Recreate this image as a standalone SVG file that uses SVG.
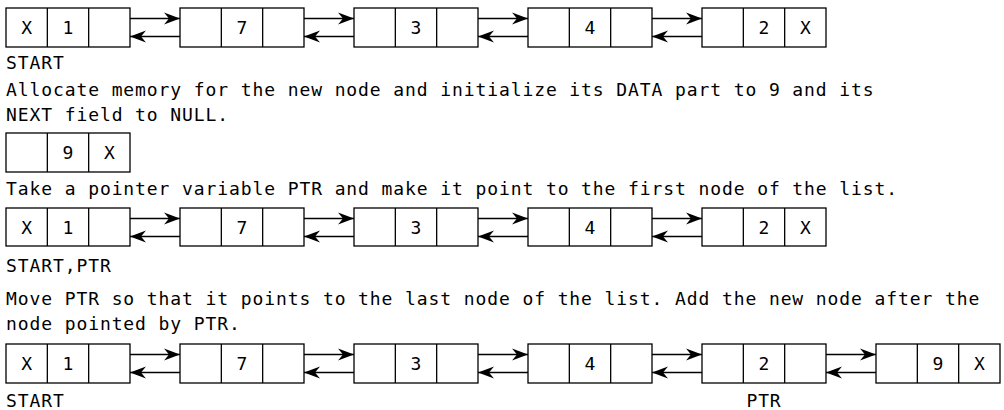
<svg xmlns="http://www.w3.org/2000/svg" width="1004" height="410" viewBox="0 0 1004 410">
<style>
.box{fill:#fff;stroke:#000;stroke-width:1.3}
.div{stroke:#000;stroke-width:1.3}
.ct{font-family:"DejaVu Sans Mono","Liberation Mono",monospace;font-size:18px;fill:#000;text-anchor:middle}
.tx{font-family:"DejaVu Sans Mono","Liberation Mono",monospace;font-size:18px;letter-spacing:0.9px;fill:#000}
.ln{stroke:#000;stroke-width:1.3;fill:none;marker-end:url(#ah)}
</style>
<defs>
<marker id="ah" markerUnits="userSpaceOnUse" markerWidth="17" markerHeight="13" refX="16" refY="6.5" orient="auto">
<path d="M0,0.5 L16,6.5 L0,12.5 L5,6.5 z" fill="#000"/>
</marker>
</defs>
<rect width="1004" height="410" fill="#fff"/>

<g id="connectors">
<line class="ln" x1="130" y1="18.5" x2="180" y2="18.5"/>
<line class="ln" x1="180" y1="36.5" x2="130" y2="36.5"/>
<line class="ln" x1="304" y1="18.5" x2="354" y2="18.5"/>
<line class="ln" x1="354" y1="36.5" x2="304" y2="36.5"/>
<line class="ln" x1="478" y1="18.5" x2="528" y2="18.5"/>
<line class="ln" x1="528" y1="36.5" x2="478" y2="36.5"/>
<line class="ln" x1="652" y1="18.5" x2="702" y2="18.5"/>
<line class="ln" x1="702" y1="36.5" x2="652" y2="36.5"/>
<line class="ln" x1="130" y1="218.5" x2="180" y2="218.5"/>
<line class="ln" x1="180" y1="236.5" x2="130" y2="236.5"/>
<line class="ln" x1="304" y1="218.5" x2="354" y2="218.5"/>
<line class="ln" x1="354" y1="236.5" x2="304" y2="236.5"/>
<line class="ln" x1="478" y1="218.5" x2="528" y2="218.5"/>
<line class="ln" x1="528" y1="236.5" x2="478" y2="236.5"/>
<line class="ln" x1="652" y1="218.5" x2="702" y2="218.5"/>
<line class="ln" x1="702" y1="236.5" x2="652" y2="236.5"/>
<line class="ln" x1="130" y1="354.5" x2="180" y2="354.5"/>
<line class="ln" x1="180" y1="372.5" x2="130" y2="372.5"/>
<line class="ln" x1="304" y1="354.5" x2="354" y2="354.5"/>
<line class="ln" x1="354" y1="372.5" x2="304" y2="372.5"/>
<line class="ln" x1="478" y1="354.5" x2="528" y2="354.5"/>
<line class="ln" x1="528" y1="372.5" x2="478" y2="372.5"/>
<line class="ln" x1="652" y1="354.5" x2="702" y2="354.5"/>
<line class="ln" x1="702" y1="372.5" x2="652" y2="372.5"/>
<line class="ln" x1="826" y1="354.5" x2="876" y2="354.5"/>
<line class="ln" x1="876" y1="372.5" x2="826" y2="372.5"/>
</g>

<g id="r1n1"><rect class="box" x="6" y="8" width="124" height="39"/><line class="div" x1="47.33" y1="8" x2="47.33" y2="47"/><line class="div" x1="88.67" y1="8" x2="88.67" y2="47"/><text class="ct" x="26.67" y="34">X</text><text class="ct" x="68" y="34">1</text></g>
<g id="r1n2"><rect class="box" x="180" y="8" width="124" height="39"/><line class="div" x1="221.33" y1="8" x2="221.33" y2="47"/><line class="div" x1="262.67" y1="8" x2="262.67" y2="47"/><text class="ct" x="242" y="34">7</text></g>
<g id="r1n3"><rect class="box" x="354" y="8" width="124" height="39"/><line class="div" x1="395.33" y1="8" x2="395.33" y2="47"/><line class="div" x1="436.67" y1="8" x2="436.67" y2="47"/><text class="ct" x="416" y="34">3</text></g>
<g id="r1n4"><rect class="box" x="528" y="8" width="124" height="39"/><line class="div" x1="569.33" y1="8" x2="569.33" y2="47"/><line class="div" x1="610.67" y1="8" x2="610.67" y2="47"/><text class="ct" x="590" y="34">4</text></g>
<g id="r1n5"><rect class="box" x="702" y="8" width="124" height="39"/><line class="div" x1="743.33" y1="8" x2="743.33" y2="47"/><line class="div" x1="784.67" y1="8" x2="784.67" y2="47"/><text class="ct" x="764" y="34">2</text><text class="ct" x="805.33" y="34">X</text></g>
<text class="tx" x="6" y="69">START</text>

<text class="tx" x="6" y="96">Allocate memory for the new node and initialize its DATA part to 9 and its</text>
<text class="tx" x="6" y="121">NEXT field to NULL.</text>

<g id="newnode"><rect class="box" x="6" y="133" width="124" height="39"/><line class="div" x1="47.33" y1="133" x2="47.33" y2="172"/><line class="div" x1="88.67" y1="133" x2="88.67" y2="172"/><text class="ct" x="68" y="159">9</text><text class="ct" x="109.33" y="159">X</text></g>

<text class="tx" x="6" y="195">Take a pointer variable PTR and make it point to the first node of the list.</text>

<g id="r3n1"><rect class="box" x="6" y="208" width="124" height="38"/><line class="div" x1="47.33" y1="208" x2="47.33" y2="246"/><line class="div" x1="88.67" y1="208" x2="88.67" y2="246"/><text class="ct" x="26.67" y="233.5">X</text><text class="ct" x="68" y="233.5">1</text></g>
<g id="r3n2"><rect class="box" x="180" y="208" width="124" height="38"/><line class="div" x1="221.33" y1="208" x2="221.33" y2="246"/><line class="div" x1="262.67" y1="208" x2="262.67" y2="246"/><text class="ct" x="242" y="233.5">7</text></g>
<g id="r3n3"><rect class="box" x="354" y="208" width="124" height="38"/><line class="div" x1="395.33" y1="208" x2="395.33" y2="246"/><line class="div" x1="436.67" y1="208" x2="436.67" y2="246"/><text class="ct" x="416" y="233.5">3</text></g>
<g id="r3n4"><rect class="box" x="528" y="208" width="124" height="38"/><line class="div" x1="569.33" y1="208" x2="569.33" y2="246"/><line class="div" x1="610.67" y1="208" x2="610.67" y2="246"/><text class="ct" x="590" y="233.5">4</text></g>
<g id="r3n5"><rect class="box" x="702" y="208" width="124" height="38"/><line class="div" x1="743.33" y1="208" x2="743.33" y2="246"/><line class="div" x1="784.67" y1="208" x2="784.67" y2="246"/><text class="ct" x="764" y="233.5">2</text><text class="ct" x="805.33" y="233.5">X</text></g>
<text class="tx" x="6" y="272">START,PTR</text>

<text class="tx" x="6" y="305">Move PTR so that it points to the last node of the list. Add the new node after the</text>
<text class="tx" x="6" y="330">node pointed by PTR.</text>

<g id="r4n1"><rect class="box" x="6" y="344" width="124" height="39"/><line class="div" x1="47.33" y1="344" x2="47.33" y2="383"/><line class="div" x1="88.67" y1="344" x2="88.67" y2="383"/><text class="ct" x="26.67" y="370">X</text><text class="ct" x="68" y="370">1</text></g>
<g id="r4n2"><rect class="box" x="180" y="344" width="124" height="39"/><line class="div" x1="221.33" y1="344" x2="221.33" y2="383"/><line class="div" x1="262.67" y1="344" x2="262.67" y2="383"/><text class="ct" x="242" y="370">7</text></g>
<g id="r4n3"><rect class="box" x="354" y="344" width="124" height="39"/><line class="div" x1="395.33" y1="344" x2="395.33" y2="383"/><line class="div" x1="436.67" y1="344" x2="436.67" y2="383"/><text class="ct" x="416" y="370">3</text></g>
<g id="r4n4"><rect class="box" x="528" y="344" width="124" height="39"/><line class="div" x1="569.33" y1="344" x2="569.33" y2="383"/><line class="div" x1="610.67" y1="344" x2="610.67" y2="383"/><text class="ct" x="590" y="370">4</text></g>
<g id="r4n5"><rect class="box" x="702" y="344" width="124" height="39"/><line class="div" x1="743.33" y1="344" x2="743.33" y2="383"/><line class="div" x1="784.67" y1="344" x2="784.67" y2="383"/><text class="ct" x="764" y="370">2</text></g>
<g id="r4n6"><rect class="box" x="876" y="344" width="124" height="39"/><line class="div" x1="917.33" y1="344" x2="917.33" y2="383"/><line class="div" x1="958.67" y1="344" x2="958.67" y2="383"/><text class="ct" x="938" y="370">9</text><text class="ct" x="979.33" y="370">X</text></g>
<text class="tx" x="6" y="407">START</text>
<text class="tx" x="764" y="407" text-anchor="middle">PTR</text>
</svg>
